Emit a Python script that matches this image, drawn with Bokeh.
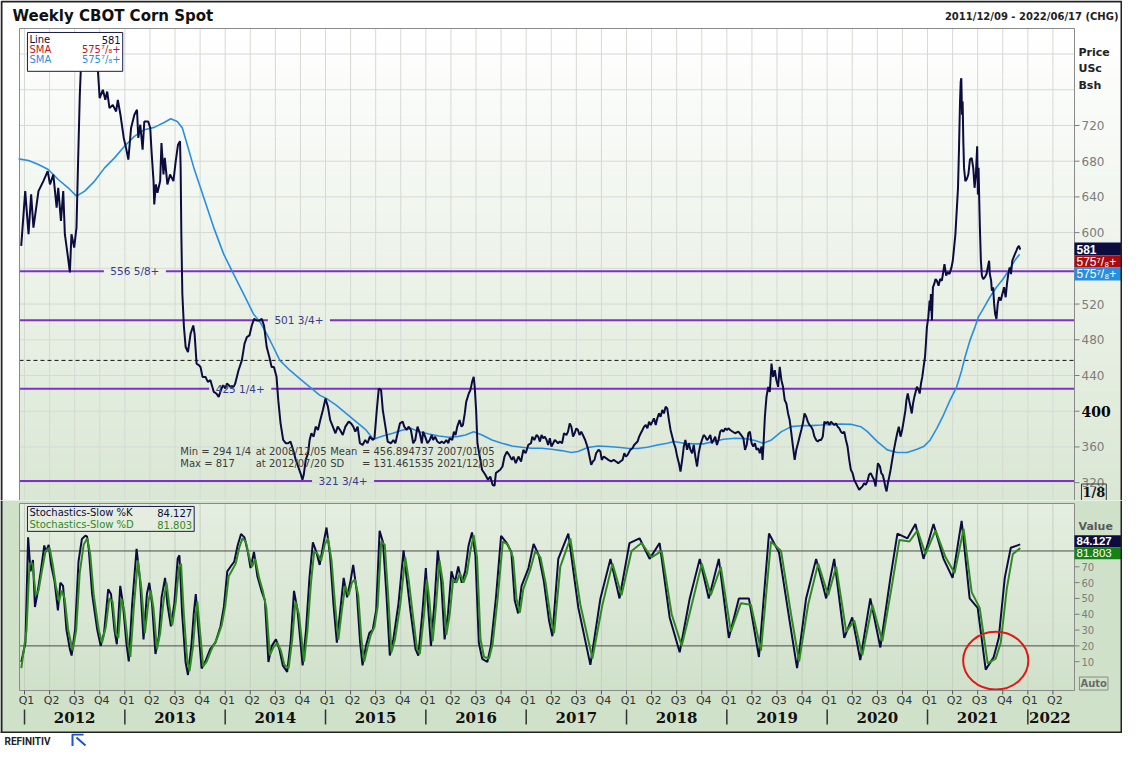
import numpy as np
from bokeh.plotting import figure
from bokeh.layouts import column
from bokeh.models import Range1d, Label
from bokeh.embed import file_html
from bokeh.resources import INLINE

# ---------------- data (decimal year, price in US cents / bushel) ----------------
price_2012 = [(2011.967, 585.2), (2012.007, 646.5), (2012.040, 598.2), (2012.066, 642.8), (2012.089, 605.6),
              (2012.139, 646.5), (2012.188, 657.7), (2012.231, 668.8), (2012.254, 654.0), (2012.287, 665.1),
              (2012.320, 627.9), (2012.336, 650.2), (2012.363, 613.1), (2012.386, 646.5), (2012.402, 598.2),
              (2012.429, 575.9), (2012.452, 555.5), (2012.468, 598.2), (2012.495, 583.3), (2012.518, 605.6),
              (2012.534, 680.0), (2012.551, 754.3), (2012.567, 798.9), (2012.575, 817.0), (2012.600, 800.0),
              (2012.620, 790.0), (2012.640, 808.0), (2012.660, 795.0), (2012.680, 786.0), (2012.700, 800.0),
              (2012.715, 790.0), (2012.732, 780.3), (2012.749, 750.6), (2012.781, 759.9), (2012.805, 748.7),
              (2012.824, 758.0), (2012.847, 739.4), (2012.880, 743.1), (2012.913, 735.7), (2012.930, 748.7),
              (2012.956, 732.0), (2012.989, 706.0)]
price_2013 = [(2013.012, 694.8), (2013.035, 681.8), (2013.062, 717.1), (2013.095, 732.0), (2013.121, 737.6),
              (2013.134, 706.0), (2013.154, 720.8), (2013.177, 693.0), (2013.194, 724.5), (2013.233, 724.5),
              (2013.253, 717.1), (2013.266, 691.1), (2013.286, 657.7), (2013.293, 631.6), (2013.309, 654.0),
              (2013.325, 644.7), (2013.352, 657.7), (2013.365, 700.4), (2013.385, 665.1), (2013.398, 683.7),
              (2013.424, 654.0), (2013.451, 665.1), (2013.484, 657.7), (2013.507, 680.0), (2013.530, 698.5),
              (2013.550, 702.2), (2013.556, 672.5), (2013.563, 598.2), (2013.573, 531.3), (2013.589, 494.2),
              (2013.606, 471.9), (2013.629, 466.3), (2013.655, 486.7), (2013.682, 496.0), (2013.695, 486.7),
              (2013.715, 453.3), (2013.738, 451.4), (2013.754, 449.6), (2013.774, 438.4), (2013.804, 438.4),
              (2013.827, 432.9), (2013.853, 434.7), (2013.886, 421.7), (2013.912, 419.8), (2013.935, 416.1),
              (2013.958, 423.6), (2013.978, 429.1)]
price_2014 = [(2014.001, 425.4), (2014.018, 431.0), (2014.051, 427.3), (2014.084, 427.3), (2014.100, 431.0),
              (2014.133, 445.9), (2014.166, 457.0), (2014.193, 475.6), (2014.216, 483.0), (2014.242, 484.9),
              (2014.265, 496.0), (2014.288, 503.4), (2014.315, 501.6), (2014.341, 501.6), (2014.364, 503.4),
              (2014.387, 496.0), (2014.414, 471.9), (2014.440, 460.7), (2014.463, 449.6), (2014.486, 449.6),
              (2014.512, 438.4), (2014.529, 412.4), (2014.552, 386.4), (2014.578, 367.8), (2014.605, 364.1),
              (2014.628, 364.1), (2014.651, 366.0), (2014.677, 356.7), (2014.704, 345.5), (2014.727, 338.1),
              (2014.750, 330.7), (2014.770, 323.2), (2014.783, 328.8), (2014.803, 345.5), (2014.826, 352.9),
              (2014.842, 367.8), (2014.859, 375.3), (2014.882, 371.5), (2014.902, 382.7), (2014.925, 379.0),
              (2014.948, 390.1), (2014.974, 401.3)]
price_2015 = [(2015.000, 414.3), (2015.024, 405.0), (2015.047, 390.1), (2015.073, 382.7), (2015.099, 375.3),
              (2015.122, 382.7), (2015.145, 379.0), (2015.172, 373.4), (2015.198, 382.7), (2015.231, 388.3),
              (2015.254, 386.4), (2015.277, 382.7), (2015.297, 377.1), (2015.320, 382.7), (2015.343, 364.1),
              (2015.370, 362.2), (2015.396, 367.8), (2015.419, 364.1), (2015.442, 371.5), (2015.469, 367.8),
              (2015.488, 369.7), (2015.511, 401.3), (2015.531, 425.4), (2015.554, 423.6), (2015.571, 401.3),
              (2015.597, 382.7), (2015.620, 366.0), (2015.653, 364.1), (2015.676, 367.8), (2015.696, 364.1),
              (2015.719, 375.3), (2015.742, 386.4), (2015.769, 388.3), (2015.785, 382.7), (2015.808, 379.0),
              (2015.828, 382.7), (2015.851, 379.0), (2015.874, 364.1), (2015.894, 367.8), (2015.917, 382.7),
              (2015.940, 375.3), (2015.960, 364.1), (2015.973, 377.1), (2015.993, 371.5)]
price_2016 = [(2016.016, 364.1), (2016.039, 367.8), (2016.059, 373.4), (2016.072, 367.8), (2016.092, 371.5),
              (2016.115, 366.0), (2016.138, 364.1), (2016.158, 366.0), (2016.181, 364.1), (2016.204, 367.8),
              (2016.224, 364.1), (2016.237, 369.7), (2016.263, 367.8), (2016.280, 377.1), (2016.296, 373.4),
              (2016.313, 382.7), (2016.336, 390.1), (2016.355, 382.7), (2016.369, 384.5), (2016.388, 397.5),
              (2016.402, 410.5), (2016.428, 419.8), (2016.444, 423.6), (2016.461, 432.9), (2016.477, 438.4),
              (2016.487, 427.3), (2016.501, 401.3), (2016.514, 364.1), (2016.560, 334.4), (2016.593, 328.8),
              (2016.619, 323.2), (2016.642, 326.9), (2016.665, 317.6), (2016.685, 316.5), (2016.698, 330.7),
              (2016.718, 332.5), (2016.741, 334.4), (2016.764, 338.1), (2016.784, 349.2), (2016.807, 354.8),
              (2016.830, 351.1), (2016.857, 345.5), (2016.873, 349.2), (2016.896, 341.8), (2016.923, 349.2),
              (2016.949, 343.7), (2016.972, 356.7), (2016.995, 352.9)]
price_2017 = [(2017.021, 362.2), (2017.048, 364.1), (2017.061, 371.5), (2017.081, 367.8), (2017.104, 373.4),
              (2017.120, 371.5), (2017.137, 366.0), (2017.153, 373.4), (2017.170, 369.7), (2017.186, 371.5),
              (2017.203, 367.8), (2017.219, 362.2), (2017.236, 369.7), (2017.252, 360.4), (2017.269, 364.1),
              (2017.285, 367.8), (2017.302, 366.0), (2017.318, 364.1), (2017.335, 366.0), (2017.358, 364.1),
              (2017.377, 375.3), (2017.401, 373.4), (2017.417, 377.1), (2017.434, 386.4), (2017.450, 382.7),
              (2017.467, 371.5), (2017.483, 375.3), (2017.500, 380.8), (2017.516, 379.0), (2017.532, 373.4),
              (2017.549, 377.1), (2017.565, 373.4), (2017.588, 367.8), (2017.615, 358.5), (2017.631, 349.2),
              (2017.648, 339.9), (2017.664, 343.7), (2017.681, 345.5), (2017.697, 352.9), (2017.721, 356.7),
              (2017.740, 354.8), (2017.753, 345.5), (2017.773, 349.2), (2017.796, 347.4), (2017.819, 345.5),
              (2017.846, 343.7), (2017.872, 345.5), (2017.895, 343.7), (2017.918, 341.8), (2017.938, 343.7),
              (2017.961, 345.5), (2017.978, 352.9), (2017.994, 349.2)]
price_2018 = [(2018.011, 351.1), (2018.037, 356.7), (2018.060, 358.5), (2018.076, 362.2), (2018.093, 364.1),
              (2018.110, 366.0), (2018.126, 371.5), (2018.142, 375.3), (2018.159, 379.0), (2018.175, 382.7),
              (2018.192, 384.5), (2018.208, 380.8), (2018.225, 388.3), (2018.241, 384.5), (2018.258, 388.3),
              (2018.274, 392.0), (2018.291, 384.5), (2018.307, 392.0), (2018.324, 397.5), (2018.340, 393.8),
              (2018.357, 401.3), (2018.373, 397.5), (2018.390, 405.0), (2018.406, 403.1), (2018.423, 390.1),
              (2018.439, 379.0), (2018.456, 371.5), (2018.472, 364.1), (2018.489, 358.5), (2018.505, 349.2),
              (2018.522, 341.8), (2018.538, 332.5), (2018.555, 345.5), (2018.571, 360.4), (2018.587, 367.8),
              (2018.604, 356.7), (2018.621, 364.1), (2018.637, 356.7), (2018.654, 352.9), (2018.670, 362.2),
              (2018.686, 349.2), (2018.703, 338.1), (2018.719, 352.9), (2018.736, 362.2), (2018.752, 367.8),
              (2018.769, 373.4), (2018.785, 371.5), (2018.802, 367.8), (2018.818, 369.7), (2018.835, 373.4),
              (2018.851, 364.1), (2018.868, 367.8), (2018.884, 371.5), (2018.901, 362.2), (2018.917, 367.8),
              (2018.934, 377.1), (2018.950, 378.9), (2018.967, 377.1), (2018.983, 380.8)]
price_2019 = [(2019.000, 379.0), (2019.016, 380.8), (2019.033, 379.0), (2019.082, 375.3), (2019.115, 377.1),
              (2019.141, 373.4), (2019.165, 369.7), (2019.181, 356.7), (2019.198, 362.2), (2019.214, 375.3),
              (2019.230, 377.1), (2019.247, 364.1), (2019.263, 360.4), (2019.280, 364.1), (2019.296, 356.7),
              (2019.313, 358.5), (2019.329, 352.9), (2019.346, 360.4), (2019.356, 345.5), (2019.366, 364.1),
              (2019.379, 393.8), (2019.395, 416.1), (2019.412, 427.3), (2019.428, 421.7), (2019.445, 453.3),
              (2019.461, 438.4), (2019.478, 445.9), (2019.494, 434.7), (2019.511, 427.3), (2019.527, 449.6),
              (2019.544, 434.7), (2019.560, 427.3), (2019.577, 412.4), (2019.593, 408.7), (2019.610, 397.5),
              (2019.626, 390.1), (2019.643, 375.3), (2019.659, 360.4), (2019.676, 345.5), (2019.692, 356.7),
              (2019.709, 364.1), (2019.725, 371.5), (2019.742, 379.0), (2019.758, 386.4), (2019.774, 397.5),
              (2019.791, 393.8), (2019.807, 388.3), (2019.824, 384.5), (2019.840, 382.7), (2019.857, 379.0),
              (2019.873, 371.5), (2019.890, 367.8), (2019.906, 366.0), (2019.923, 367.8), (2019.939, 367.8),
              (2019.956, 371.5), (2019.972, 388.3), (2019.989, 386.4)]
price_2020 = [(2020.005, 388.3), (2020.022, 384.5), (2020.038, 388.3), (2020.055, 386.4), (2020.071, 384.5),
              (2020.088, 386.4), (2020.104, 382.7), (2020.121, 380.8), (2020.137, 377.1), (2020.154, 375.3),
              (2020.170, 377.1), (2020.187, 367.8), (2020.203, 360.4), (2020.220, 345.5), (2020.236, 334.4),
              (2020.253, 330.7), (2020.269, 323.2), (2020.286, 319.5), (2020.302, 315.8), (2020.319, 312.1),
              (2020.335, 314.0), (2020.352, 315.8), (2020.368, 319.5), (2020.384, 317.7), (2020.401, 321.4),
              (2020.417, 328.8), (2020.434, 330.7), (2020.450, 326.9), (2020.467, 323.2), (2020.483, 315.8),
              (2020.493, 328.8), (2020.506, 341.8), (2020.526, 338.1), (2020.539, 330.7), (2020.553, 328.8),
              (2020.566, 323.2), (2020.579, 315.8), (2020.592, 310.2), (2020.605, 319.5), (2020.619, 326.9),
              (2020.632, 334.4), (2020.648, 345.5), (2020.665, 356.7), (2020.681, 366.0), (2020.698, 375.3),
              (2020.714, 382.7), (2020.731, 371.5), (2020.747, 379.0), (2020.764, 390.1), (2020.780, 401.3),
              (2020.790, 412.4), (2020.803, 419.8), (2020.816, 412.4), (2020.830, 405.0), (2020.843, 397.5),
              (2020.856, 408.7), (2020.869, 416.1), (2020.882, 421.7), (2020.895, 427.3), (2020.912, 423.6),
              (2020.922, 419.8), (2020.935, 431.0), (2020.948, 438.4), (2020.961, 449.6), (2020.975, 460.7),
              (2020.984, 475.6), (2020.994, 494.2)]
price_2021 = [(2021.008, 505.3), (2021.021, 523.9), (2021.028, 512.7), (2021.034, 531.3), (2021.044, 501.6),
              (2021.054, 538.8), (2021.067, 542.5), (2021.080, 548.0), (2021.093, 546.2), (2021.110, 540.6),
              (2021.126, 548.0), (2021.143, 546.2), (2021.159, 557.3), (2021.169, 564.8), (2021.186, 551.8),
              (2021.199, 555.5), (2021.219, 553.6), (2021.239, 561.1), (2021.252, 568.5), (2021.265, 583.3),
              (2021.278, 598.2), (2021.291, 624.2), (2021.304, 650.2), (2021.314, 694.8), (2021.324, 746.8),
              (2021.331, 769.1), (2021.337, 772.9), (2021.344, 732.0), (2021.350, 746.8), (2021.357, 702.2),
              (2021.364, 672.5), (2021.377, 657.7), (2021.390, 659.5), (2021.407, 665.1), (2021.423, 681.8),
              (2021.440, 683.7), (2021.456, 672.5), (2021.469, 650.2), (2021.482, 665.1), (2021.495, 696.7),
              (2021.502, 642.8), (2021.509, 672.5), (2021.515, 639.1), (2021.522, 605.6), (2021.532, 568.5),
              (2021.542, 551.8), (2021.555, 548.0), (2021.571, 549.9), (2021.588, 553.6), (2021.604, 562.9),
              (2021.614, 568.5), (2021.621, 553.6), (2021.634, 546.2), (2021.641, 535.0), (2021.654, 538.8),
              (2021.664, 520.2), (2021.674, 509.0), (2021.687, 503.4), (2021.700, 520.2), (2021.713, 527.6),
              (2021.730, 523.9), (2021.746, 531.3), (2021.763, 538.8), (2021.779, 527.6), (2021.792, 542.5),
              (2021.805, 553.6), (2021.819, 561.1), (2021.832, 553.6), (2021.845, 568.5), (2021.858, 572.2),
              (2021.871, 575.9), (2021.885, 579.6), (2021.898, 583.3), (2021.911, 585.2), (2021.924, 581.0)]

sma_pts = [(2011.941, 682.6), (2012.040, 680.7), (2012.139, 676.2), (2012.237, 670.7), (2012.336, 659.5),
           (2012.435, 650.2), (2012.518, 640.9), (2012.600, 646.5), (2012.699, 657.7), (2012.798, 672.5),
           (2012.897, 683.7), (2012.996, 696.7), (2013.095, 707.8), (2013.194, 715.3), (2013.293, 717.9),
           (2013.392, 723.4), (2013.457, 727.5), (2013.523, 724.5), (2013.573, 717.1), (2013.622, 698.5),
           (2013.688, 672.5), (2013.787, 639.1), (2013.886, 605.6), (2013.985, 575.9), (2014.084, 553.6),
           (2014.183, 531.3), (2014.282, 509.0), (2014.348, 499.7), (2014.414, 486.7), (2014.480, 471.9),
           (2014.545, 457.0), (2014.644, 445.9), (2014.743, 436.6), (2014.842, 427.3), (2014.941, 418.0),
           (2015.007, 414.3), (2015.106, 406.8), (2015.205, 397.5), (2015.304, 388.3), (2015.403, 379.0),
           (2015.478, 368.5), (2015.571, 372.3), (2015.670, 375.3), (2015.769, 379.0), (2015.851, 380.8),
           (2015.933, 377.1), (2016.032, 374.5), (2016.131, 372.3), (2016.230, 370.8), (2016.313, 371.5),
           (2016.395, 373.4), (2016.477, 377.1), (2016.560, 373.4), (2016.659, 367.8), (2016.758, 364.1),
           (2016.857, 361.1), (2016.956, 359.6), (2017.054, 358.5), (2017.153, 358.5), (2017.252, 357.4),
           (2017.351, 355.9), (2017.450, 353.7), (2017.516, 354.8), (2017.615, 359.3), (2017.714, 361.1),
           (2017.813, 360.4), (2017.912, 359.6), (2018.011, 358.5), (2018.110, 358.2), (2018.208, 359.6),
           (2018.307, 362.2), (2018.406, 364.1), (2018.472, 366.0), (2018.571, 364.1), (2018.670, 363.4),
           (2018.769, 363.4), (2018.868, 366.0), (2018.967, 368.6), (2019.082, 369.7), (2019.181, 369.3),
           (2019.280, 367.1), (2019.362, 364.1), (2019.445, 367.8), (2019.544, 377.1), (2019.643, 382.7),
           (2019.742, 383.8), (2019.840, 383.8), (2019.939, 384.5), (2020.038, 385.3), (2020.137, 385.7),
           (2020.236, 385.3), (2020.335, 382.7), (2020.401, 377.1), (2020.500, 366.0), (2020.599, 356.7),
           (2020.698, 353.7), (2020.797, 353.7), (2020.895, 357.4), (2020.961, 360.4), (2021.027, 367.8),
           (2021.093, 380.8), (2021.159, 395.7), (2021.225, 412.4), (2021.291, 427.3), (2021.341, 445.9),
           (2021.374, 460.7), (2021.423, 479.3), (2021.473, 494.2), (2021.506, 505.3), (2021.555, 514.6),
           (2021.621, 527.6), (2021.687, 538.8), (2021.753, 548.0), (2021.819, 559.2), (2021.868, 568.5),
           (2021.918, 575.9)]

# Stochastics-Slow %K and %D (decimal year, value)
stoch_k_a = [(2011.968, 9.8), (2012.009, 22.0), (2012.036, 88.6), (2012.060, 67.1), (2012.084, 74.3),
             (2012.104, 44.6), (2012.128, 52.8), (2012.162, 67.1), (2012.197, 83.5), (2012.214, 79.4),
             (2012.241, 83.9), (2012.265, 71.2), (2012.299, 61.0), (2012.333, 42.5), (2012.357, 59.9),
             (2012.384, 57.9), (2012.418, 30.2), (2012.452, 18.0), (2012.469, 13.9), (2012.504, 30.2),
             (2012.538, 73.2), (2012.572, 87.6), (2012.606, 89.6), (2012.623, 89.2), (2012.640, 81.4),
             (2012.674, 52.8), (2012.725, 30.2), (2012.759, 20.0), (2012.793, 28.2), (2012.834, 55.8),
             (2012.862, 52.8), (2012.896, 30.2), (2012.920, 21.0), (2012.954, 57.9), (2012.981, 46.6),
             (2013.015, 22.0), (2013.039, 10.2), (2013.073, 46.6), (2013.117, 81.4), (2013.152, 61.0),
             (2013.186, 24.1), (2013.220, 52.8), (2013.244, 59.9), (2013.271, 46.6), (2013.305, 14.9),
             (2013.339, 26.1), (2013.366, 50.7), (2013.401, 63.0), (2013.424, 46.6), (2013.459, 32.3),
             (2013.493, 46.6), (2013.527, 75.3), (2013.544, 77.3), (2013.571, 40.5), (2013.605, 9.8),
             (2013.629, 1.6), (2013.663, 20.0), (2013.687, 40.5), (2013.707, 52.8), (2013.731, 32.3),
             (2013.765, 5.7), (2013.800, 9.8), (2013.851, 18.0), (2013.902, 22.0), (2013.953, 32.3),
             (2013.987, 44.6), (2014.021, 67.1), (2014.055, 70.2), (2014.090, 73.2), (2014.124, 83.5),
             (2014.158, 90.7), (2014.192, 88.6), (2014.226, 79.4), (2014.253, 69.2), (2014.287, 79.4),
             (2014.321, 64.0), (2014.362, 54.8), (2014.396, 48.7), (2014.431, 9.8), (2014.465, 20.0),
             (2014.506, 24.1), (2014.540, 18.0), (2014.574, 7.7), (2014.618, 3.6), (2014.652, 22.0),
             (2014.686, 54.8), (2014.721, 42.5), (2014.772, 7.7), (2014.806, 30.2), (2014.840, 63.0),
             (2014.874, 85.5), (2014.908, 79.4), (2014.942, 71.2), (2014.976, 83.5), (2015.010, 94.8),
             (2015.045, 77.3), (2015.079, 46.6), (2015.113, 22.0), (2015.147, 42.5), (2015.181, 63.0),
             (2015.215, 50.7), (2015.249, 61.0), (2015.276, 71.2), (2015.311, 54.8), (2015.345, 22.0),
             (2015.369, 7.7), (2015.403, 20.0), (2015.437, 28.2), (2015.471, 30.2), (2015.505, 42.5),
             (2015.539, 92.7), (2015.573, 85.5), (2015.607, 52.8), (2015.641, 13.9), (2015.676, 24.1),
             (2015.727, 46.6), (2015.778, 80.4), (2015.812, 61.0), (2015.846, 42.5), (2015.897, 18.0),
             (2015.925, 13.9), (2015.965, 40.5), (2016.000, 69.2), (2016.016, 50.7), (2016.051, 20.0),
             (2016.085, 46.6), (2016.119, 80.4), (2016.153, 61.0), (2016.187, 24.1), (2016.221, 40.5),
             (2016.255, 67.1), (2016.289, 59.9), (2016.323, 70.2), (2016.358, 59.9), (2016.392, 67.1),
             (2016.426, 83.5), (2016.460, 91.7), (2016.494, 77.3), (2016.528, 22.0), (2016.562, 11.8),
             (2016.613, 9.8), (2016.648, 20.0), (2016.699, 50.7), (2016.750, 89.6), (2016.801, 85.5),
             (2016.852, 79.4), (2016.886, 48.7), (2016.920, 40.5), (2016.954, 57.9), (2017.023, 69.2),
             (2017.074, 84.5), (2017.125, 77.3), (2017.176, 61.0), (2017.227, 36.4), (2017.261, 26.1)]
stoch_k_b = [(2017.32, 75), (2017.42, 91), (2017.52, 44), (2017.64, 8), (2017.74, 50), (2017.84, 75),
             (2017.93, 50), (2018.03, 85), (2018.13, 88), (2018.23, 75), (2018.33, 85), (2018.43, 38),
             (2018.53, 16), (2018.63, 50), (2018.73, 75), (2018.82, 50), (2018.92, 75), (2019.02, 25),
             (2019.12, 50), (2019.22, 50), (2019.32, 13), (2019.42, 91), (2019.52, 79), (2019.62, 38),
             (2019.70, 6), (2019.79, 50), (2019.89, 75), (2019.99, 50), (2020.07, 75), (2020.17, 25),
             (2020.25, 38), (2020.33, 11), (2020.43, 50), (2020.53, 19), (2020.63, 63), (2020.70, 91),
             (2020.80, 88), (2020.88, 97), (2020.96, 75), (2021.06, 97), (2021.16, 75), (2021.25, 63),
             (2021.34, 99), (2021.42, 50), (2021.50, 44), (2021.58, 5), (2021.66, 13), (2021.71, 25),
             (2021.77, 63), (2021.83, 82), (2021.924, 84.127)]
stoch_d_a = [(2011.968, 6), (2012.020, 30), (2012.050, 72), (2012.080, 72), (2012.112, 52), (2012.140, 55),
             (2012.175, 68), (2012.210, 80), (2012.250, 82), (2012.280, 72), (2012.312, 58), (2012.345, 48),
             (2012.370, 55), (2012.400, 50), (2012.435, 30), (2012.480, 17), (2012.515, 30), (2012.550, 66),
             (2012.590, 84), (2012.625, 88), (2012.655, 78), (2012.690, 52), (2012.740, 30), (2012.772, 22),
             (2012.810, 32), (2012.845, 50), (2012.878, 48), (2012.910, 28), (2012.935, 25), (2012.965, 50),
             (2012.995, 42), (2013.030, 22), (2013.055, 13), (2013.090, 45), (2013.130, 74), (2013.165, 56),
             (2013.200, 28), (2013.235, 48), (2013.258, 55), (2013.285, 44), (2013.320, 18), (2013.352, 28),
             (2013.385, 48), (2013.415, 60), (2013.440, 47), (2013.472, 33), (2013.508, 48), (2013.540, 70),
             (2013.560, 72), (2013.588, 40), (2013.620, 12), (2013.645, 4), (2013.680, 20), (2013.702, 38),
             (2013.722, 48), (2013.748, 30), (2013.780, 7), (2013.815, 10), (2013.865, 18), (2013.915, 24),
             (2013.965, 33), (2014.000, 45), (2014.035, 64), (2014.070, 68), (2014.105, 72), (2014.140, 82),
             (2014.172, 88), (2014.205, 86), (2014.240, 76), (2014.268, 70), (2014.300, 75), (2014.338, 63),
             (2014.378, 54), (2014.410, 44), (2014.445, 14), (2014.480, 19), (2014.520, 22), (2014.555, 17),
             (2014.590, 8), (2014.632, 6), (2014.668, 24), (2014.700, 48), (2014.735, 40), (2014.786, 10),
             (2014.820, 30), (2014.855, 60), (2014.888, 80), (2014.922, 78), (2014.956, 74), (2014.992, 84),
             (2015.025, 88), (2015.060, 74), (2015.095, 46), (2015.128, 24), (2015.162, 42), (2015.196, 58),
             (2015.230, 52), (2015.263, 60), (2015.292, 62), (2015.326, 52), (2015.358, 24), (2015.385, 10),
             (2015.418, 19), (2015.452, 27), (2015.488, 32), (2015.520, 45), (2015.555, 86), (2015.590, 84),
             (2015.624, 52), (2015.657, 16), (2015.692, 24), (2015.745, 46), (2015.795, 76), (2015.828, 62),
             (2015.862, 44), (2015.912, 18), (2015.940, 15), (2015.982, 40), (2016.010, 62), (2016.034, 50),
             (2016.068, 23), (2016.102, 46), (2016.136, 74), (2016.170, 60), (2016.204, 27), (2016.238, 40),
             (2016.272, 62), (2016.306, 60), (2016.340, 66), (2016.375, 60), (2016.410, 66), (2016.444, 80),
             (2016.477, 90), (2016.510, 76), (2016.545, 24), (2016.580, 13), (2016.630, 12), (2016.665, 21),
             (2016.716, 50), (2016.767, 86), (2016.818, 84), (2016.869, 76), (2016.903, 50), (2016.937, 41),
             (2016.972, 56), (2017.040, 68), (2017.091, 80), (2017.142, 76), (2017.193, 60), (2017.244, 38),
             (2017.278, 28)]
stoch_d_b = [(2017.34, 70), (2017.44, 88), (2017.54, 46), (2017.66, 12), (2017.76, 46), (2017.86, 72),
             (2017.95, 52), (2018.05, 80), (2018.15, 85), (2018.25, 76), (2018.35, 80), (2018.45, 40),
             (2018.55, 20), (2018.65, 46), (2018.75, 72), (2018.84, 52), (2018.94, 70), (2019.04, 29),
             (2019.14, 47), (2019.24, 46), (2019.34, 17), (2019.44, 86), (2019.54, 80), (2019.64, 40),
             (2019.72, 10), (2019.81, 46), (2019.91, 72), (2020.01, 52), (2020.09, 70), (2020.19, 29),
             (2020.27, 36), (2020.35, 14), (2020.45, 46), (2020.55, 23), (2020.65, 60), (2020.72, 87),
             (2020.82, 86), (2020.90, 93), (2020.98, 78), (2021.08, 93), (2021.18, 76), (2021.27, 66),
             (2021.36, 94), (2021.44, 54), (2021.52, 44), (2021.60, 9), (2021.68, 12), (2021.73, 22),
             (2021.79, 56), (2021.85, 78), (2021.924, 81.803)]

levels = [556.625, 501.75, 425.25, 321.75]
level_labels = ["556 5/8+", "501 3/4+", "425 1/4+", "321 3/4+"]
level_label_t = [2013.10, 2014.735, 2014.15, 2015.175]
mean_price = 456.894737
stats_rows = [["Min  = 294 1/4", "at 2008/12/05", "Mean", "= 456.894737 2007/01/05"],
              ["Max = 817", "at 2012/07/20", "SD", "= 131.461535 2021/12/03"]]
price_ticks = [320, 360, 400, 440, 480, 520, 600, 640, 680, 720]
price_grid = [320, 360, 400, 440, 480, 520, 560, 600, 640, 680, 720, 760, 800]
stoch_ticks = [10, 20, 30, 40, 50, 60, 70]
stoch_levels = [80, 20]
years = list(range(2012, 2023))
quarter_names = ["Q1", "Q2", "Q3", "Q4"]
last_line, last_sma = "581", "575\u2077/\u2088+"
last_k, last_d = "84.127", "81.803"
circle_t, circle_v, circle_w, circle_h = 2021.68, 10.7, 0.65, 36.5

# ---------------- layout ----------------
W = 1122
PL, PR = 19, 1074            # plot area left / right (figure px)
H1, T1 = 500, 28             # upper figure height, title band
H2, T2, FH2 = 233, 3, 187    # lower figure height, gap, plot height
H3 = 13
X0, X1 = 2011.95, 2022.465
PY0, PY1 = 300.0, 828.6
SY0, SY1 = -8.2, 110.0
sx = (X1 - X0) / (PR - PL)
XL = X0 - PL * sx
XR = XL + W * sx
sy1 = (PY1 - PY0) / (H1 - T1)
YT1 = PY1 + T1 * sy1
sy2 = (SY1 - SY0) / FH2
YT2 = SY1 + T2 * sy2
YB2 = YT2 - H2 * sy2

FONT = "DejaVu Sans"
SERIF = "DejaVu Serif"
TAGFONT = "Liberation Sans"
NAVY = "#0c0c3e"
PURPLE = "#7f2fcc"
GREEN = "#2f8a22"
BLUE = "#2a8ee0"
GRID = "#d6d9d4"
FRAME = "#8a8a8a"
UP_TOP, UP_BOT = (255, 255, 255), (218, 231, 212)
LO_TOP, LO_BOT = (229, 238, 225), (208, 225, 202)
AXIS_BG = "#d0e1ca"


def fx(px):
    return XL + px * sx


def fy1(py):
    return YT1 - py * sy1


def fy2(py):
    return YT2 - py * sy2


def rx(x):
    return PL + (x - 19) * (PR - PL) / 1063


def ru(y):
    return T1 + (y - 28) * (H1 - T1) / 474


def rl(y):
    return T2 + (y - 505) * FH2 / 188


def mix(top, bot, f):
    return tuple(int(round(b + (t - b) * f)) for t, b in zip(top, bot))


def grad_img(top, bot, n=160):
    img = np.empty((n, 1), dtype=np.uint32)
    v = img.view(dtype=np.uint8).reshape((n, 1, 4))
    for i in range(n):
        r, g, b = mix(top, bot, i / (n - 1))
        v[i, 0, :] = (r, g, b, 255)
    return img


def unzip(pts):
    return [a for a, _ in pts], [b for _, b in pts]


def lab(p, x, y, text, size="10px", color="#222222", align="left", font=FONT, style="normal", **kw):
    p.add_layout(Label(x=x, y=y, text=text, text_align=align, text_baseline="middle", text_font=font,
                       text_font_style=style, text_font_size=size, text_color=color, **kw))


def base_fig(h, y0, y1, bg):
    p = figure(width=W, height=h, x_range=Range1d(XL, XR), y_range=Range1d(y0, y1),
               x_axis_location=None, y_axis_location=None, toolbar_location=None,
               output_backend="svg", min_border=0, outline_line_color=None,
               background_fill_color=bg, border_fill_color=bg)
    p.grid.visible = False
    return p


price_pts = price_2012 + price_2013 + price_2014 + price_2015 + price_2016 + price_2017 + \
    price_2018 + price_2019 + price_2020 + price_2021
pt, pv = unzip(price_pts)
st, sv = unzip(sma_pts)
kt, kv = unzip(stoch_k_a + stoch_k_b)
dt, dv = unzip(stoch_d_a + stoch_d_b)
quarter_ticks = [y + q * 0.25 for y in years for q in range(4) if y + q * 0.25 < X1]

# ================= upper panel =================
p1 = base_fig(H1, PY0, YT1, "white")
p1.image_rgba(image=[grad_img(UP_TOP, UP_BOT)], x=X0, y=PY0, dw=XR - X0, dh=PY1 - PY0, level="image")
p1.segment(x0=quarter_ticks, y0=PY0, x1=quarter_ticks, y1=PY1, line_color=GRID, line_width=1)
p1.segment(x0=X0, y0=price_grid, x1=X1, y1=price_grid, line_color=GRID, line_width=1)
gap = 31 * sx
for lv, lt in zip(levels, level_label_t):
    p1.segment(x0=[X0, lt + gap], y0=lv, x1=[lt - gap, X1], y1=lv, line_color=PURPLE, line_width=2)
p1.line(x=[X0, X1], y=[mean_price, mean_price], line_color="#111111", line_width=1, line_dash="4 3")
for lv, labt, lt in zip(levels, level_labels, level_label_t):
    lab(p1, lt, lv, labt, size="10.5px", color="#3a3a8e", align="center")

p1.line(st, sv, line_color=BLUE, line_width=1.6)
p1.line(pt, pv, line_color=NAVY, line_width=2)

# plot frame and right axis
p1.quad(left=X0, right=X1, bottom=PY0, top=PY1, fill_color=None, line_color=FRAME, line_width=1)
p1.segment(x0=X1, y0=price_ticks, x1=X1 + 5 * sx, y1=price_ticks, line_color="#7c7c7c", line_width=1)
for tk in price_ticks:
    if tk == 400:
        lab(p1, X1 + 7 * sx, tk, "400", size="14px", color="#000000", font=SERIF, style="bold")
    else:
        lab(p1, X1 + 7 * sx, tk, str(tk), size="12px", color="#7c7c7c")
for i, t in enumerate(["Price", "USc", "Bsh"]):
    lab(p1, fx(rx(1086)), fy1(ru(52 + 16.5 * i)), t, size="11px", color="#222222", style="bold")
tags = [(last_line, NAVY, 243, 256, "bold"), (last_sma, "#a80c10", 256, 268, "normal"),
        (last_sma, BLUE, 268, 281, "normal")]
for txt, col, ya, yb, stl in tags:
    p1.quad(left=X1, right=XR, top=fy1(ru(ya)), bottom=fy1(ru(yb)), fill_color=col, line_color=None)
    lab(p1, X1 + 2 * sx, fy1(ru((ya + yb) / 2)), txt, size="12px", color="white", style=stl, font=TAGFONT)
lab(p1, fx(rx(1089)), fy1(H1 - 8), "1/8", size="13px", color="#111111", font=SERIF, style="bold",
    border_line_color="#333333", padding=1)

# statistics text
col_x = [181, 257, 332, 364]
for r, row in enumerate(stats_rows):
    for cx, txt in zip(col_x, row):
        lab(p1, fx(rx(cx)), fy1(ru(452.5 + 12 * r)), txt, size="10px", color="#3c3c3c")

# legend box
p1.quad(left=fx(rx(27)), right=fx(rx(123)), top=fy1(ru(32)), bottom=fy1(ru(71)),
        fill_color="white", line_color="#1b1b4b", line_width=1)
leg_rows = [("Line", last_line, NAVY), ("SMA", last_sma, "#c0141c"), ("SMA", last_sma, BLUE)]
for i, (nm, val, col) in enumerate(leg_rows):
    yy = fy1(ru(39.5 + 10 * i))
    lab(p1, fx(rx(29)), yy, nm, size="10px", color=col)
    lab(p1, fx(rx(121)), yy, val, size="10px", color=col, align="right")

# titles and outer border
lab(p1, fx(12), fy1(15), "Weekly CBOT Corn Spot", size="15px", color="#111111", style="bold")
lab(p1, fx(W - 4), fy1(16), "2011/12/09 - 2022/06/17 (CHG)", size="10px", color="#222222",
    align="right", style="bold")
p1.line(x=[fx(1), fx(1), fx(W - 1), fx(W - 1)], y=[PY0, fy1(1), fy1(1), PY0], line_color="#222222",
        line_width=2)

# ================= lower panel =================
p2 = base_fig(H2, YB2, YT2, AXIS_BG)
p2.image_rgba(image=[grad_img(LO_TOP, LO_BOT)], x=X0, y=SY0, dw=X1 - X0, dh=SY1 - SY0, level="image")
p2.segment(x0=quarter_ticks, y0=SY0, x1=quarter_ticks, y1=SY1, line_color="#c6d0c2", line_width=1)
p2.segment(x0=X0, y0=stoch_levels, x1=X1, y1=stoch_levels, line_color="#4c4c4c", line_width=1)
p2.line(kt, kv, line_color=NAVY, line_width=2)
p2.line(dt, dv, line_color=GREEN, line_width=2)
p2.ellipse(x=circle_t, y=circle_v, width=circle_w, height=circle_h, fill_color=None,
           line_color="#e01818", line_width=2)
p2.quad(left=X0, right=X1, bottom=SY0, top=SY1, fill_color=None, line_color=FRAME, line_width=1)

p2.quad(left=fx(rx(27)), right=fx(rx(195)), top=fy2(rl(508)), bottom=fy2(rl(533)),
        fill_color="#e4ede0", line_color="#1b1b4b", line_width=1)
for i, (nm, val, col) in enumerate([("Stochastics-Slow %K", last_k, NAVY),
                                     ("Stochastics-Slow %D", last_d, GREEN)]):
    yy = fy2(rl(514.5 + 12 * i))
    lab(p2, fx(rx(29)), yy, nm, size="10px", color=col)
    lab(p2, fx(rx(193)), yy, val, size="10px", color=col, align="right")

p2.segment(x0=X1, y0=stoch_ticks, x1=X1 + 5 * sx, y1=stoch_ticks, line_color="#7c7c7c", line_width=1)
for tk in stoch_ticks:
    lab(p2, X1 + 7 * sx, tk, str(tk), size="10px", color="#7c7c7c")
lab(p2, fx(rx(1086)), fy2(rl(528)), "Value", size="11px", color="#5a5a5a", style="bold")
for txt, col, ya, yb, stl in [(last_k, NAVY, 537, 549, "bold"), (last_d, "#148214", 549, 561, "normal")]:
    p2.quad(left=X1, right=XR, top=fy2(rl(ya)), bottom=fy2(rl(yb)), fill_color=col, line_color=None)
    lab(p2, X1 + 2 * sx, fy2(rl((ya + yb) / 2)), txt, size="11.5px", color="white", style=stl,
        font=TAGFONT)
lab(p2, fx(rx(1087)), fy2(rl(686)), "Auto", size="10px", color="#6a6a6a", style="bold",
    border_line_color="#8a8a8a", padding=1)

p2.segment(x0=quarter_ticks, y0=SY0, x1=quarter_ticks, y1=fy2(T2 + FH2 + 4), line_color="#555555",
           line_width=1)
for i, qt in enumerate(quarter_ticks):
    lab(p2, qt + 2 * sx, fy2(T2 + FH2 + 10), quarter_names[i % 4], size="11px", color="#333333",
        align="center")
p2.segment(x0=[float(y) for y in years], y0=fy2(T2 + FH2 + 19), x1=[float(y) for y in years],
           y1=fy2(T2 + FH2 + 34), line_color="#333333", line_width=1.5)
for y in years:
    xc = y + 0.5 if y < years[-1] else y + 0.22
    lab(p2, xc, fy2(T2 + FH2 + 27), str(y), size="15px", color="#111111", font=SERIF, style="bold",
        align="center")
p2.line(x=[fx(1), fx(1)], y=[YB2, YT2], line_color="#222222", line_width=2)
p2.line(x=[fx(W - 1), fx(W - 1)], y=[YB2, YT2], line_color="#222222", line_width=2)
p2.line(x=[fx(0), fx(W)], y=[fy2(H2 - 1), fy2(H2 - 1)], line_color="#222222", line_width=2)

# ================= footer =================
p3 = figure(width=W, height=H3, x_range=Range1d(0, W), y_range=Range1d(0, H3),
            x_axis_location=None, y_axis_location=None, toolbar_location=None,
            output_backend="svg", min_border=0, outline_line_color=None,
            background_fill_color="white", border_fill_color="white")
p3.grid.visible = False
p3.add_layout(Label(x=4, y=5, text="REFINITIV", text_align="left", text_baseline="middle",
                    text_font="Roboto", text_font_style="bold", text_font_size="10px",
                    text_color="#222222"))
p3.line(x=[72, 72, 83], y=[0, 12, 12], line_color="#1b4fe0", line_width=2)
p3.line(x=[76, 85], y=[9, 1], line_color="#1b4fe0", line_width=2)

layout = column(p1, p2, p3, spacing=0)
open("out.html", "w").write(file_html(layout, INLINE))
